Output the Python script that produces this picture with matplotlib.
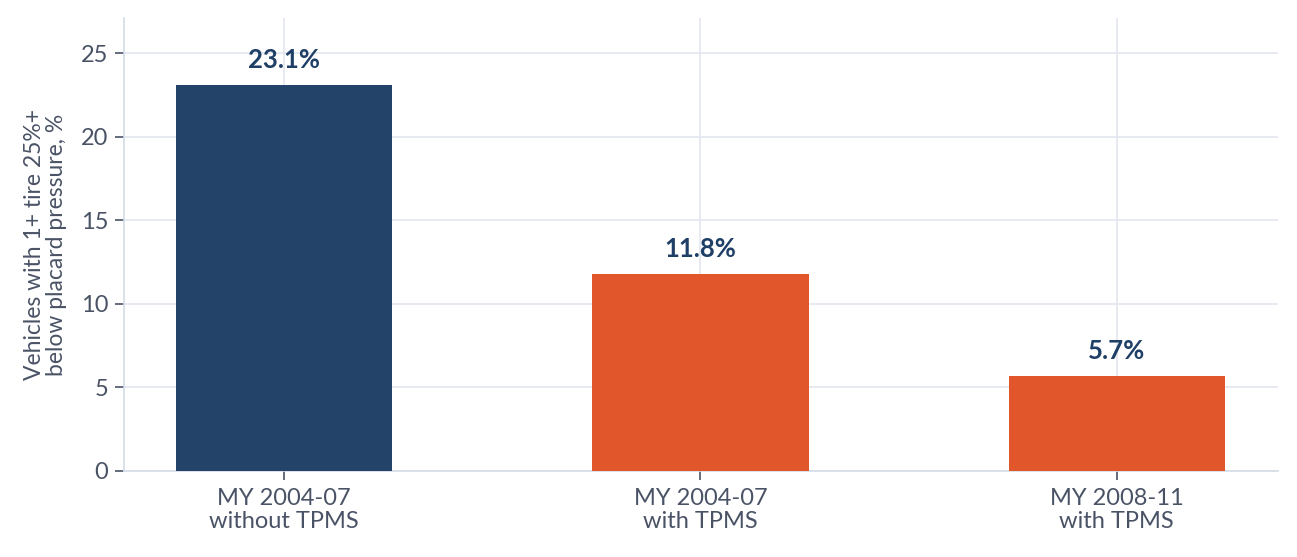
import matplotlib
matplotlib.use("Agg")
import matplotlib.pyplot as plt

# Data
categories = ["MY 2004-07\nwithout TPMS", "MY 2004-07\nwith TPMS", "MY 2008-11\nwith TPMS"]
values = [23.1, 11.8, 5.7]
bar_colors = ["#234468", "#E2562B", "#E2562B"]
y_ticks = [0, 5, 10, 15, 20, 25]

text_color = "#4A5366"
label_color = "#1F3F66"
grid_color = "#E3E8EF"
spine_color = "#D3DBE4"

plt.rcParams['font.family'] = ['Lato', 'DejaVu Sans']

fig = plt.figure(figsize=(12.97, 5.57), dpi=100)
ax = fig.add_axes([0.0956, 0.1544, 0.8897, 0.8133])

x = list(range(len(categories)))
ax.bar(x, values, width=0.52, color=bar_colors, zorder=3)

for xi, v in zip(x, values):
    ax.text(xi, v + 0.75, f"{v:.1f}%", ha="center", va="bottom",
            fontsize=18.5, fontweight="bold", color=label_color, zorder=4)

ax.set_xlim(-0.384, 2.387)
ax.set_ylim(0, 27.1)
ax.set_yticks(y_ticks)
ax.set_xticks(x)
ax.set_xticklabels(categories)

ax.grid(True, color=grid_color, linewidth=1.2, zorder=0)
ax.set_axisbelow(True)

for side in ["top", "right"]:
    ax.spines[side].set_visible(False)
for side in ["left", "bottom"]:
    ax.spines[side].set_color(spine_color)
    ax.spines[side].set_linewidth(1.2)

ax.tick_params(axis="both", colors=text_color, labelsize=17, length=6.5, width=1.2)
ax.tick_params(axis="x", pad=6)
ax.tick_params(axis="y", pad=5)
for lbl in ax.get_xticklabels():
    lbl.set_linespacing(1.12)

ax.set_ylabel("Vehicles with 1+ tire 25%+\nbelow placard pressure, %",
              fontsize=16.5, color=text_color, linespacing=1.05, labelpad=10)

fig.savefig("out.png", dpi=100)
